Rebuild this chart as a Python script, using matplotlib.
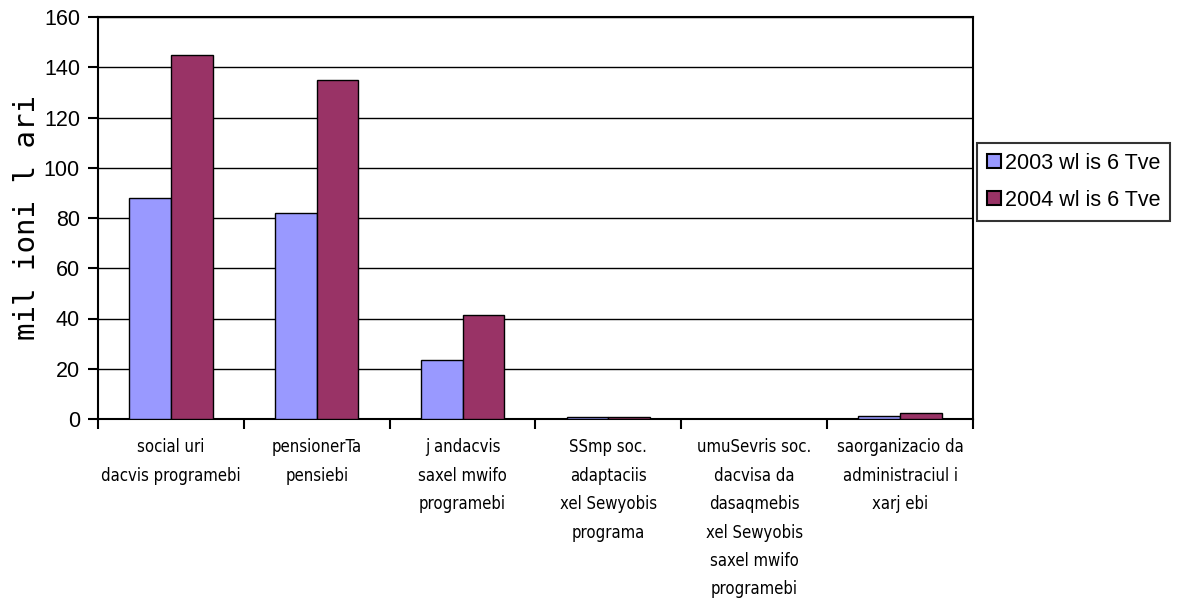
import matplotlib
matplotlib.use("Agg")
import matplotlib.pyplot as plt
import numpy as np

categories = [
    "social uri\ndacvis programebi",
    "pensionerTa\npensiebi",
    "j andacvis\nsaxel mwifo\nprogramebi",
    "SSmp soc.\nadaptaciis\nxel Sewyobis\nprograma",
    "umuSevris soc.\ndacvisa da\ndasaqmebis\nxel Sewyobis\nsaxel mwifo\nprogramebi",
    "saorganizacio da\nadministraciul i\nxarj ebi",
]
series_names = ["2003 wl is 6 Tve", "2004 wl is 6 Tve"]
values_2003 = [88, 82, 23.5, 0.8, 0.0, 1.2]
values_2004 = [145, 135, 41.5, 0.8, 0.0, 2.3]
yticks = [0, 20, 40, 60, 80, 100, 120, 140, 160]
ylabel = "mil ioni l ari"
colors = ["#9999FF", "#993366"]

fig = plt.figure(figsize=(11.85, 6.08), dpi=100)
ax = fig.add_axes([98/1185, 1-419/608, (973-98)/1185, (419-17)/608])

x = np.arange(len(categories))
w = 1/3.5
ax.bar(x - w/2, values_2003, w, color=colors[0], edgecolor="black", linewidth=1, label=series_names[0], zorder=3)
ax.bar(x + w/2, values_2004, w, color=colors[1], edgecolor="black", linewidth=1, label=series_names[1], zorder=3)

ax.set_xlim(-0.5, len(categories) - 0.5)
ax.set_ylim(0, 160)
ax.set_yticks(yticks)
ax.set_yticklabels([str(t) for t in yticks], fontsize=15.5, family="Liberation Sans")
ax.yaxis.grid(True, color="black", linewidth=1, zorder=0)
ax.set_axisbelow(True)
ax.tick_params(axis="y", direction="out", length=7, width=1.5, pad=6)

ax.set_xticks(x)
ax.set_xticklabels(categories, fontsize=12, family="DejaVu Sans", fontstretch="condensed", linespacing=1.74, va="top")
ax.tick_params(axis="x", which="major", length=0, pad=14)
ax.set_xticks(np.arange(-0.5, len(categories)), minor=True)
ax.tick_params(axis="x", which="minor", direction="out", length=7, width=1.5)

for s in ax.spines.values():
    s.set_linewidth(1.5)
    s.set_color("black")

ax.set_ylabel(ylabel, fontsize=21, family="DejaVu Sans Mono", labelpad=2)

leg = ax.legend(loc="upper left", bbox_to_anchor=(977/1185, 1-143/608), bbox_transform=fig.transFigure,
                prop={"family": "Liberation Sans", "size": 15.5}, frameon=True, fancybox=False,
                handlelength=0.65, handleheight=0.65, handletextpad=0.2, borderpad=0.45, labelspacing=0.75,
                borderaxespad=0)
leg.get_frame().set_edgecolor("black")
leg.get_frame().set_linewidth(1.5)
for h in leg.legend_handles:
    h.set_edgecolor("black")
    h.set_linewidth(1.5)

fig.savefig("out.png", dpi=100)
